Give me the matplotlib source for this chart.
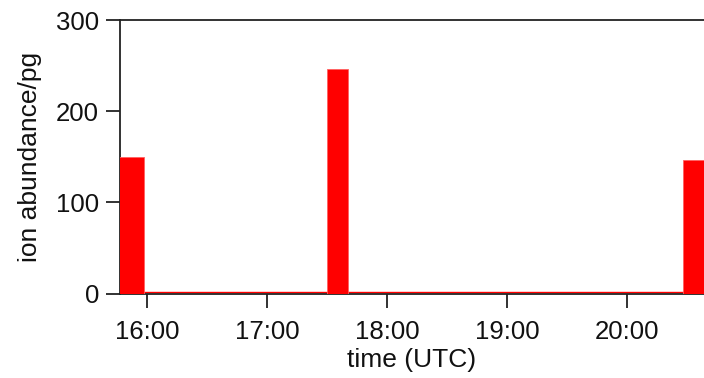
import matplotlib
matplotlib.use("Agg")
import matplotlib.pyplot as plt
from matplotlib.ticker import FixedLocator, FuncFormatter

plt.rcParams['font.family'] = ['Liberation Sans', 'DejaVu Sans']

# sample start times (hours UTC), sample durations (hours), ion abundance (pg)
sample_start = [15.77, 17.498, 20.465]
sample_width = [0.205, 0.178, 0.178]
abundance = [150, 246, 146]
baseline = 1.5

hour_ticks = [16, 17, 18, 19, 20]
x_range = (15.775, 20.643)
y_range = (0, 300)

fig = plt.figure(figsize=(7.04, 3.78), dpi=100)
ax = fig.add_axes([0.1705, 0.2235, 0.8295, 0.7235])

ax.axhline(baseline, color='#ff0000', lw=1.0, zorder=2)
ax.bar(sample_start, abundance, width=sample_width, align='edge',
       color='#ff0000', edgecolor='#ff6060', linewidth=0.6, zorder=3)

ax.set_xlim(*x_range)
ax.set_ylim(*y_range)
ax.xaxis.set_major_locator(FixedLocator(hour_ticks))
ax.xaxis.set_major_formatter(FuncFormatter(lambda v, p: f"{int(round(v)):02d}:00"))
ax.set_yticks([0, 100, 200, 300])

for side in ['left', 'bottom', 'top']:
    ax.spines[side].set_linewidth(1.3)
    ax.spines[side].set_color('#222222')
ax.spines['right'].set_visible(False)

ax.tick_params(axis='both', direction='out', length=10, width=1.3,
               color='#222222', labelsize=18.5, labelcolor='#111111')
ax.tick_params(axis='y', pad=5)
ax.tick_params(axis='x', pad=9)

ax.set_ylabel('ion abundance/pg', fontsize=19, color='#111111', labelpad=10)
ax.set_xlabel('time (UTC)', fontsize=19, color='#111111', labelpad=3)

fig.savefig('out.png', dpi=100)
